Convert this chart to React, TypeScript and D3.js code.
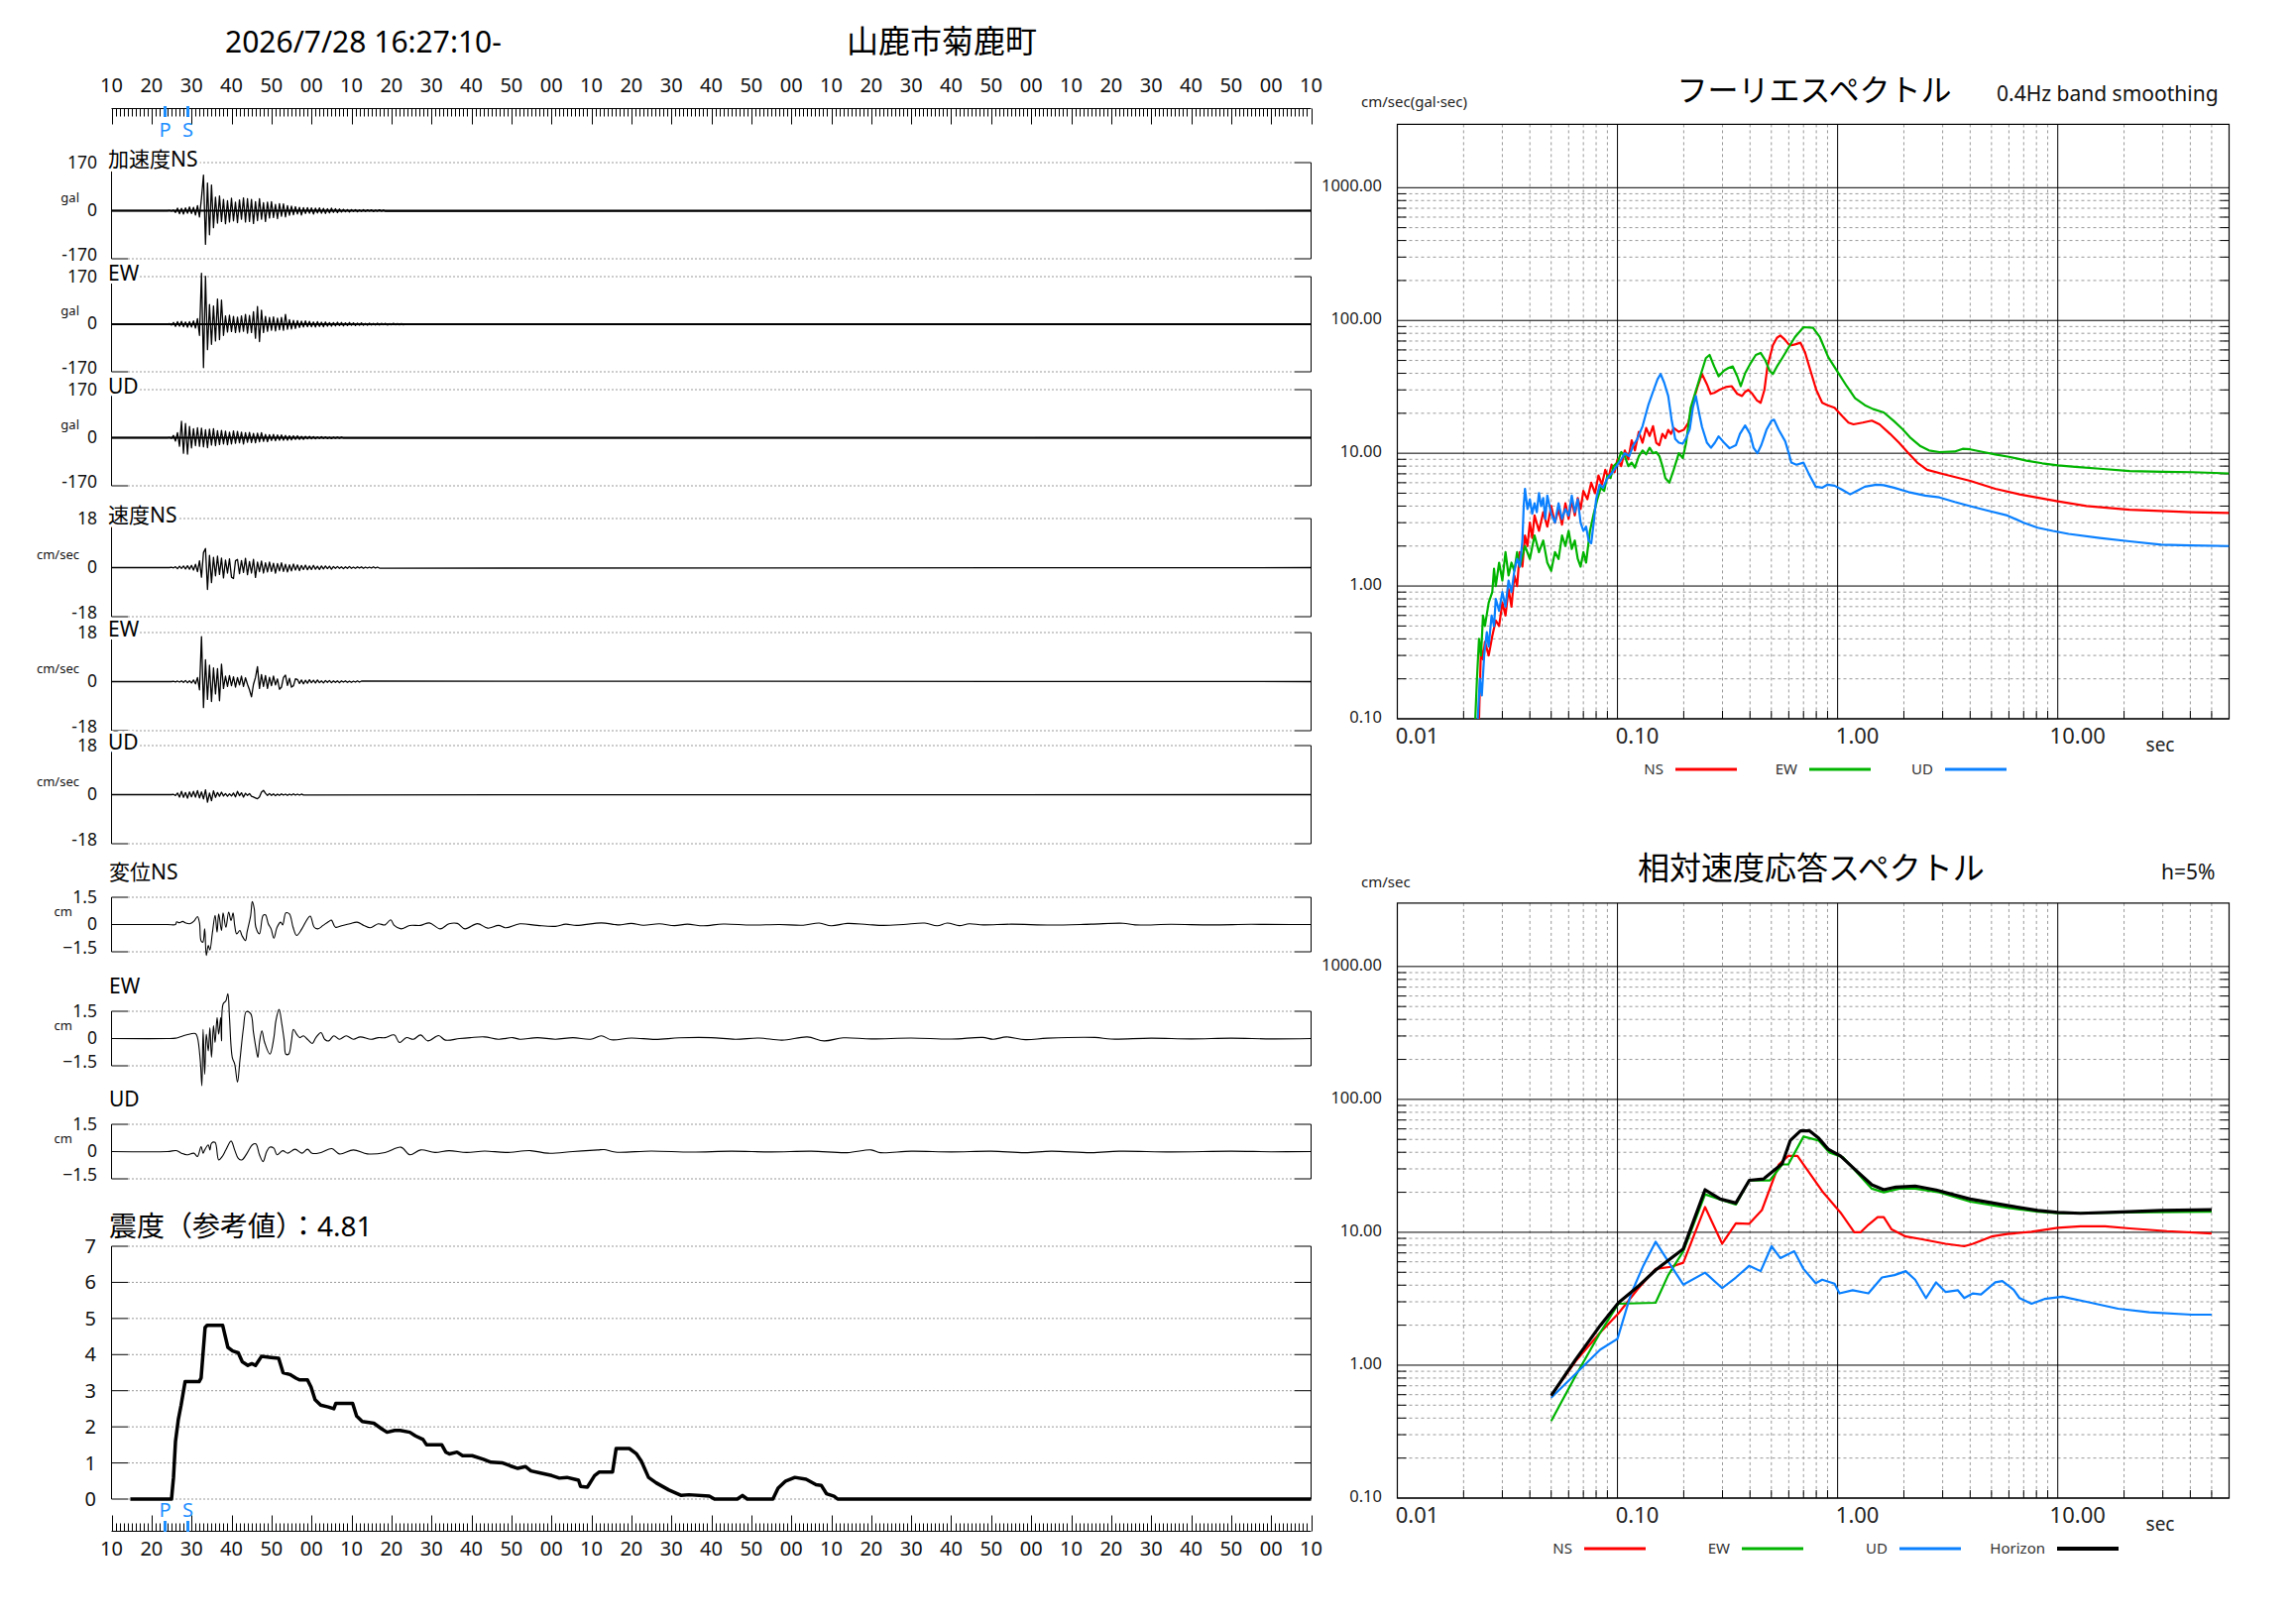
import * as d3 from "d3";

// ---------- waveform samples (time in seconds after 16:27:00) ----------
const waveStart = 24;
const waveStep = 0.5;

// acceleration, gal
const accNS = [0, 1, -1, 2, -6, 9, -11, 8, -12, 10, -9, 13, -10, 12, -15, 18, -22, 45, 126, -119, 98, -85, 91, -60, 48, -44, 52, -38, 40, -46, 35, -40, 44, -36, 30, -42, 38, -30, 45, -40, 42, -38, 40, -45, 32, -35, 42, -30, 28, -38, 30, -26, 32, -24, 22, -28, 25, -20, 24, -22, 18, -16, 16, -14, 14, -12, 12, -15, 11, -10, 11, -9, 10, -12, 9, -8, 10, -9, 8, -10, 7, -8, 9, -6, 7, -7, 6, -5, 5, -4, 4, -5, 4, -3, 4, -4, 3, -3, 4, -3, 3, -2, 3, -3, 2, -2, 3, -2, 2, -2];
const accEW = [0, 2, -3, 6, -8, 9, -7, 10, -9, 8, -11, 9, -10, 12, -14, 20, -40, 182, -155, 171, -91, 70, -72, 65, -60, 90, -55, 86, -40, 30, -28, 32, -26, 28, -30, 25, -28, 30, -25, 35, -32, 31, -30, 45, -50, 63, -62, 50, -30, 28, -25, 24, -22, 26, -24, 22, -20, 24, -22, 35, -18, 16, -17, 14, -15, 13, -12, 11, -10, 12, -9, 10, -9, 8, -10, 9, -8, 7, -9, 8, -7, 6, -7, 6, -6, 7, -5, 6, -6, 5, -5, 6, -4, 5, -5, 4, -4, 5, -4, 3, -4, 4, -3, 3, -3, 4, -3, 3, -2, 3, -3, 2, -2, 3, -2, 2, -2, 2, -2, 1];
const accUD = [0, 1, -2, 8, -12, 18, -30, 58, -55, 50, -58, 40, -36, 32, -28, 35, -30, 34, -32, 28, -35, 30, -26, 32, -28, 25, -24, 26, -22, 23, -25, 20, -22, 24, -20, 22, -18, 20, -22, 18, -16, 19, -17, 15, -18, 16, -14, 18, -13, 12, -14, 11, -10, 12, -11, 10, -9, 10, -9, 8, -9, 7, -8, 7, -6, 7, -6, 5, -6, 5, -4, 5, -4, 4, -4, 3, -3, 4, -3, 3, -3, 2, -3, 2, -2, 2, -2, 2, -1];

// velocity, cm/sec
const velNS = [0, 0, 0.1, -0.1, 0.3, -0.4, 0.5, -0.3, 0.6, -0.5, 0.7, -0.6, 0.8, -0.9, 1.2, -1.5, 2.5, -3.5, 5.5, 7.0, -8.0, 4.5, -5.5, 3.8, -3.0, 4.2, -2.5, 3.5, -3.8, 2.8, -2.0, 3.2, -3.5, -4.0, 2.5, 3.0, -2.2, 2.6, -1.8, 3.4, -2.6, 2.2, -2.0, 3.0, -3.6, 2.0, -1.5, 2.4, -2.0, 1.8, -1.6, 2.0, -1.4, 1.6, -2.0, 1.5, -1.2, 1.8, -1.4, 1.2, -1.6, 1.0, -1.2, 1.3, -0.9, 1.0, -1.1, 0.8, -0.7, 0.9, -0.8, 0.6, -0.7, 0.8, -0.6, 0.5, -0.7, 0.6, -0.5, 0.6, -0.4, 0.5, -0.6, 0.4, -0.3, 0.4, -0.3, 0.3, -0.4, 0.3, -0.3, 0.4, -0.3, 0.2, -0.3, 0.3, -0.2, 0.3, -0.3, 0.2, -0.2, 0.2, -0.2, 0.3, -0.2, 0.2, -0.2];
const velEW = [0, 0, 0, 0.1, -0.1, 0.2, -0.2, 0.3, -0.3, 0.4, -0.4, 0.3, -0.5, 0.6, -0.8, 1.5, -3.0, 16.5, -9.5, 8.0, -6.5, 6.0, -7.3, 5.0, -4.5, 4.8, -7.0, 6.4, -2.5, 2.0, -1.8, 2.2, -1.5, 1.8, -2.0, 1.5, -1.2, 2.0, -1.8, 1.4, -1.0, -3.0, -5.6, -1.0, 1.5, 5.5, -2.5, 2.6, -1.8, 2.2, -2.5, 1.6, -1.5, 2.0, -1.2, 1.0, -2.8, -2.0, 1.5, 2.4, -1.4, 1.2, -2.0, -1.5, 1.0, 0.8, -0.7, 0.6, -0.8, 0.5, -0.6, 0.7, -0.4, 0.5, -0.5, 0.6, -0.4, 0.3, -0.5, 0.4, -0.3, 0.4, -0.4, 0.3, -0.3, 0.3, -0.4, 0.3, -0.2, 0.3, -0.3, 0.2, -0.3, 0.2, -0.2, 0.3, -0.2, 0.2];
const velUD = [0, 0, 0, 0.1, -0.3, 0.6, -0.9, 1.2, -1.0, 0.8, -1.3, 1.0, -0.8, 1.2, -0.9, 1.5, -1.2, 1.0, -1.6, 1.8, -2.8, 0.6, -2.2, 1.4, -1.0, 0.8, -0.6, 0.9, -0.5, 0.4, -0.6, 0.3, -0.5, 0.6, -0.8, 1.2, -0.4, 0.7, -0.9, 0.5, -0.3, 0.4, -0.6, -0.9, -1.2, -1.5, -0.8, 0.9, 1.6, 0.5, -0.3, 0.4, -0.3, 0.3, -0.4, 0.2, -0.3, 0.3, -0.2, 0.2, -0.3, 0.2, -0.2, 0.3, -0.2, 0.2, -0.2, 0.2, -0.1];

// displacement, cm  [time, value]
const dispNS: [number, number][] = [[24, 0], [26, 0], [26.3, 0.15], [27, 0.1], [27.8, 0.17], [28.6, 0.08], [29.7, 0.05], [30.6, 0.18], [31.5, 0.44], [32, 0.1], [32.4, -0.9], [32.85, -0.97], [33.3, -0.24], [33.7, -1.7], [34.2, -1.15], [34.6, -1.4], [35.2, -0.5], [35.9, 0.5], [36.4, -0.42], [36.8, 0.58], [37.5, -0.33], [37.9, 0.64], [38.6, -0.15], [39.3, 0.68], [39.9, 0.22], [40.4, 0.64], [40.8, -0.05], [41.3, -0.51], [42.1, -0.33], [42.6, -0.6], [43.5, -0.88], [43.9, -0.42], [44.8, 0.5], [45.2, 1.26], [45.7, 0.86], [46.1, -0.15], [47, -0.51], [47.9, 0.5], [48.5, 0.53], [49.2, 0.04], [49.9, -0.24], [50.6, -0.75], [51.4, -0.15], [52.3, 0.13], [52.8, -0.02], [53.6, 0.64], [54.5, 0.58], [55.4, -0.15], [56.3, -0.6], [57.6, -0.24], [59, 0.31], [59.7, 0.46], [60.7, -0.15], [61.6, -0.24], [62.9, -0.05], [64.3, 0.16], [65, 0.24], [66, -0.15], [67.8, -0.05], [69.6, 0.04], [71.4, 0.13], [73.1, -0.05], [74.7, -0.18], [76.7, 0.04], [78.4, -0.02], [79.8, 0.26], [80.7, -0.05], [82.4, -0.24], [84.6, -0.05], [87.3, -0.05], [89.5, 0.09], [92.2, -0.24], [94.4, 0.04], [96.5, 0.06], [98.4, -0.24], [101.5, 0.05], [104.1, -0.2], [106.8, -0.05], [108.6, -0.18], [112.1, 0.04], [116.5, -0.05], [121, -0.1], [123.6, 0.02], [126.3, -0.05], [132.5, 0.09], [135.8, 0], [137, -0.02], [140, 0.06], [143, -0.04], [147, 0.04], [150.8, -0.06], [154, 0.02], [158, -0.07], [163, 0.03], [170, -0.03], [177, 0], [183, -0.04], [187, 0.08], [190, -0.07], [194, 0.06], [199, 0], [203, -0.05], [208, 0], [213.4, 0.08], [216.5, -0.07], [219, 0.08], [222, -0.06], [224.5, 0.04], [228, -0.02], [235, 0.02], [245, -0.03], [255, 0.02], [263, 0.07], [266, -0.02], [275, 0.01], [285, -0.02], [295, 0.01], [305, 0]];
const dispEW: [number, number][] = [[24, 0], [26, 0.02], [27, 0.08], [28.8, 0.2], [31, 0.27], [31.5, 0.05], [32.2, -1.22], [32.6, -2.6], [32.9, 0.5], [33.3, -1.96], [33.7, 0.24], [34.2, -0.68], [34.6, 0.6], [35, -1.04], [35.5, 0.7], [35.9, -0.22], [36.4, 1.15], [36.8, 0.24], [37.3, 1.15], [37.5, -0.13], [37.9, 1.9], [38.6, 2.07], [39.1, 2.47], [39.5, 1.15], [40.2, -1.04], [40.8, -1.4], [41.5, -2.4], [42.1, -1.22], [43, 0.6], [43.7, 1.48], [44.8, 1.37], [45.5, 0.33], [46.1, -0.5], [46.6, -1.04], [47, -0.22], [47.6, 0.42], [48.3, -0.22], [49.6, -0.86], [50.6, 0.05], [51.1, 0.97], [51.9, 1.6], [52.6, 0.79], [53.2, -0.13], [53.6, -0.86], [54.3, -0.86], [55, -0.13], [55.5, 0.5], [56.3, 0.24], [57.1, 0.05], [58, 0.15], [59, -0.04], [60.2, -0.27], [61.1, 0.05], [62.4, 0.33], [63.3, -0.04], [64.3, -0.13], [65.6, 0.15], [67, -0.04], [68.7, 0.15], [70.5, -0.04], [72.2, 0.09], [74.9, -0.04], [76.7, 0.05], [78.4, 0.05], [80.7, 0.2], [82, -0.22], [83.8, 0.05], [85.5, -0.04], [87.3, 0.2], [89.1, -0.13], [91.8, 0.16], [93.5, -0.09], [97, 0], [99.7, 0.05], [103.3, 0.09], [106.8, -0.04], [110.3, 0.05], [112.1, -0.04], [116.5, 0.05], [121, -0.04], [125.4, 0.05], [129.8, -0.04], [132.5, 0.15], [135, -0.07], [140, 0.03], [146, -0.05], [152, 0.04], [160, 0.05], [166, -0.04], [172, 0.03], [177.7, -0.09], [184, 0.09], [188.2, -0.13], [193, 0.04], [200, -0.02], [210, 0.03], [220, -0.03], [227.9, 0.06], [230.5, -0.04], [233.8, 0.09], [238.5, -0.06], [244, 0.02], [256, 0.06], [260, -0.03], [270, 0.02], [280, -0.02], [290, 0.02], [300, -0.02]];
const dispUD: [number, number][] = [[24, 0], [26.2, 0.05], [27.5, -0.09], [28.8, -0.18], [30.6, -0.09], [31.5, -0.27], [32.4, 0.27], [32.9, -0.09], [33.3, 0.09], [34.2, 0.37], [34.6, 0.09], [35, 0.46], [35.9, 0.5], [36.8, -0.46], [37.7, -0.27], [38.6, 0.09], [39.9, 0.58], [40.8, 0.09], [41.7, -0.37], [42.6, -0.46], [43.9, -0.09], [45.2, 0.37], [46.1, 0.42], [47, -0.18], [47.9, -0.55], [48.8, 0], [49.6, 0.24], [50.6, 0.18], [51.4, -0.18], [52.8, 0.05], [54.1, -0.09], [55.9, 0.13], [57.6, -0.09], [59, 0.13], [60.2, -0.1], [62.4, -0.05], [65.1, 0.16], [67, -0.13], [70.5, 0.09], [74, -0.13], [78.4, -0.05], [82.4, 0.24], [84.6, -0.18], [87.3, 0.09], [90.9, -0.05], [94.4, 0.05], [98.8, -0.05], [103.3, 0.03], [108.6, -0.05], [114.8, 0.05], [119.2, -0.09], [125.4, 0], [131.6, 0.09], [133.2, 0.11], [136, -0.03], [145, 0.03], [155, -0.03], [165, 0.02], [175, -0.02], [185, 0.02], [194, -0.06], [200, 0.09], [202.3, -0.06], [210, 0.02], [220, -0.02], [230, 0.02], [238.5, -0.06], [245, 0.02], [255, -0.06], [262, 0.02], [275, -0.02], [290, 0.02], [300, -0.01]];

// seismic intensity (reference value)  [time, intensity]
const intensity: [number, number][] = [[14.7, 0], [25, 0], [25.5, 0.6], [26, 1.6], [26.7, 2.2], [27.4, 2.6], [28.4, 3.25], [31.9, 3.25], [32.4, 3.35], [33.4, 4.75], [33.9, 4.81], [37.8, 4.81], [39.1, 4.2], [40.3, 4.1], [41.7, 4.05], [42.7, 3.8], [44.1, 3.7], [45.1, 3.75], [46, 3.7], [47.5, 3.95], [49.9, 3.92], [51.8, 3.9], [52.9, 3.5], [54.6, 3.45], [56.1, 3.35], [57, 3.3], [59, 3.3], [59.9, 3.1], [60.9, 2.75], [62.3, 2.6], [64.2, 2.55], [65.6, 2.5], [66.1, 2.65], [70.3, 2.65], [71.3, 2.3], [72.7, 2.15], [75.6, 2.1], [77.5, 1.95], [78.9, 1.85], [80.8, 1.9], [82.2, 1.9], [84.6, 1.85], [86, 1.75], [87.9, 1.65], [88.8, 1.5], [92.6, 1.5], [93.6, 1.3], [94.5, 1.25], [96.4, 1.3], [97.8, 1.2], [100.2, 1.2], [103, 1.1], [104.9, 1.02], [107.8, 1], [109.7, 0.92], [111.6, 0.85], [113.5, 0.9], [114.9, 0.78], [117.3, 0.72], [120.1, 0.65], [122, 0.58], [123.9, 0.6], [125.8, 0.55], [126.8, 0.52], [127.3, 0.35], [129, 0.33], [130.8, 0.65], [132, 0.75], [135.3, 0.75], [136.2, 1.4], [139.5, 1.4], [141.3, 1.25], [142.5, 1.05], [144.3, 0.6], [146.2, 0.45], [149.4, 0.25], [152.5, 0.1], [154.4, 0.12], [159.5, 0.08], [160.8, 0], [166.5, 0], [167.8, 0.1], [169, 0], [175.4, 0], [176.7, 0.3], [178.6, 0.5], [180.9, 0.6], [183.7, 0.55], [186.2, 0.4], [187.5, 0.38], [188.8, 0.15], [190.7, 0.08], [191.6, 0], [310, 0]];
const intensityMax = 4.81;
const pArrival = 23.4;
const sArrival = 29.1;

// ---------- Fourier spectra  [period sec, cm/sec] ----------
const fourierNS: [number, number][] = [[0.0235, 0.1], [0.024, 0.35], [0.0245, 0.28], [0.025, 0.38], [0.026, 0.3], [0.027, 0.42], [0.028, 0.55], [0.029, 0.5], [0.03, 0.75], [0.031, 0.6], [0.032, 0.95], [0.033, 0.7], [0.034, 1.2], [0.035, 1.0], [0.036, 1.8], [0.037, 1.4], [0.038, 2.4], [0.039, 2.0], [0.04, 3.0], [0.041, 2.3], [0.042, 3.4], [0.044, 2.6], [0.046, 3.6], [0.048, 2.8], [0.05, 4.0], [0.052, 3.0], [0.054, 3.8], [0.056, 2.9], [0.058, 4.2], [0.06, 3.2], [0.062, 4.4], [0.064, 3.4], [0.066, 4.6], [0.068, 3.8], [0.07, 5.2], [0.073, 4.5], [0.076, 6.0], [0.079, 5.0], [0.082, 6.8], [0.085, 5.8], [0.088, 7.5], [0.091, 6.5], [0.094, 8.2], [0.097, 7.2], [0.1, 9.0], [0.104, 8.0], [0.108, 10.5], [0.112, 9.0], [0.116, 12.5], [0.12, 10.5], [0.125, 14.5], [0.13, 12.0], [0.135, 15.5], [0.14, 13.5], [0.145, 16], [0.15, 12], [0.155, 11.5], [0.16, 14], [0.165, 13], [0.17, 15], [0.175, 14], [0.18, 15.5], [0.19, 14.5], [0.2, 15], [0.21, 17], [0.22, 24], [0.23, 31], [0.242, 39.5], [0.255, 33], [0.265, 28], [0.275, 28.5], [0.29, 30], [0.31, 31.5], [0.33, 32], [0.35, 28], [0.368, 27], [0.38, 29], [0.393, 30], [0.41, 28], [0.43, 25], [0.447, 24], [0.465, 30], [0.48, 45], [0.495, 55], [0.508, 65], [0.53, 74], [0.549, 77], [0.575, 72], [0.6, 66], [0.616, 65], [0.64, 66], [0.678, 68], [0.71, 58], [0.749, 43], [0.8, 30], [0.851, 24], [0.9, 23], [0.968, 22], [1.05, 19], [1.12, 17], [1.18, 16.5], [1.3, 17], [1.43, 17.6], [1.55, 16.5], [1.73, 14], [1.9, 12], [2.1, 10], [2.3, 8.5], [2.55, 7.5], [3.09, 6.9], [4, 6.2], [5.2, 5.4], [6.7, 4.9], [10, 4.35], [13.5, 4.0], [21.2, 3.75], [40.5, 3.6], [60, 3.55]];
const fourierEW: [number, number][] = [[0.0226, 0.1], [0.023, 0.2], [0.0235, 0.4], [0.024, 0.3], [0.0245, 0.6], [0.025, 0.5], [0.026, 0.75], [0.027, 0.9], [0.0275, 1.35], [0.028, 1.0], [0.029, 1.5], [0.03, 1.1], [0.031, 1.8], [0.032, 1.2], [0.033, 1.5], [0.034, 1.3], [0.035, 1.8], [0.036, 1.4], [0.038, 2.0], [0.04, 1.6], [0.042, 2.4], [0.044, 1.8], [0.046, 2.2], [0.048, 1.5], [0.05, 1.3], [0.052, 1.8], [0.054, 1.6], [0.056, 2.4], [0.058, 2.0], [0.06, 2.6], [0.062, 1.9], [0.064, 2.2], [0.066, 1.6], [0.068, 1.4], [0.07, 1.8], [0.072, 1.5], [0.075, 2.6], [0.078, 3.5], [0.081, 4.5], [0.084, 5.5], [0.087, 5.2], [0.09, 6.8], [0.093, 6.5], [0.096, 8.0], [0.1, 8.5], [0.104, 10.2], [0.108, 9.5], [0.112, 8.0], [0.116, 8.5], [0.12, 7.8], [0.125, 9.5], [0.13, 10.5], [0.135, 9.8], [0.14, 11.0], [0.145, 10.0], [0.15, 10.2], [0.155, 9.5], [0.16, 8.0], [0.165, 6.5], [0.172, 6.0], [0.18, 7.5], [0.19, 10], [0.198, 9.2], [0.205, 12], [0.215, 22], [0.227, 29.5], [0.24, 40], [0.252, 52], [0.262, 55], [0.275, 45], [0.288, 38], [0.305, 42], [0.32, 44], [0.334, 45], [0.35, 38], [0.363, 32], [0.38, 40], [0.405, 48.5], [0.425, 55], [0.447, 57], [0.47, 50], [0.49, 42], [0.508, 39.5], [0.53, 45], [0.56, 52], [0.597, 62], [0.64, 75], [0.7, 89], [0.773, 88], [0.83, 75], [0.906, 53], [1.0, 41], [1.1, 32], [1.2, 26], [1.33, 23], [1.45, 21.5], [1.62, 20.3], [1.8, 17.5], [1.97, 15.2], [2.15, 13], [2.38, 11.3], [2.6, 10.5], [2.9, 10.2], [3.4, 10.3], [3.7, 10.8], [4.0, 10.7], [4.6, 10.2], [5.2, 9.8], [6, 9.4], [7.2, 8.8], [8.5, 8.4], [10, 8.1], [12, 7.9], [15.5, 7.65], [21.2, 7.35], [30, 7.25], [40.5, 7.2], [60, 7.05]];
const fourierUD: [number, number][] = [[0.0232, 0.1], [0.0237, 0.2], [0.0242, 0.15], [0.0248, 0.3], [0.0255, 0.45], [0.026, 0.35], [0.0268, 0.6], [0.0275, 0.5], [0.028, 0.8], [0.029, 0.65], [0.03, 0.9], [0.031, 0.7], [0.032, 1.1], [0.033, 0.9], [0.034, 1.3], [0.035, 1.6], [0.036, 1.4], [0.037, 2.2], [0.0375, 4.0], [0.038, 5.4], [0.039, 3.8], [0.04, 4.5], [0.041, 3.5], [0.042, 4.2], [0.043, 3.6], [0.044, 5.0], [0.045, 4.0], [0.046, 4.6], [0.047, 3.2], [0.048, 4.8], [0.05, 3.5], [0.052, 3.0], [0.054, 4.2], [0.056, 3.2], [0.058, 3.8], [0.06, 3.4], [0.062, 4.8], [0.064, 3.6], [0.066, 4.5], [0.068, 3.0], [0.07, 2.6], [0.072, 2.8], [0.074, 2.2], [0.076, 2.1], [0.078, 3.0], [0.08, 4.5], [0.083, 5.8], [0.086, 5.5], [0.09, 6.5], [0.095, 7.2], [0.1, 8.2], [0.104, 9.0], [0.108, 10], [0.113, 9.5], [0.118, 11.5], [0.123, 12.8], [0.13, 16], [0.138, 23], [0.146, 30], [0.152, 36], [0.157, 39.5], [0.163, 34], [0.17, 27], [0.176, 18], [0.183, 12.8], [0.19, 12], [0.198, 11.8], [0.205, 13], [0.213, 15.2], [0.22, 22], [0.227, 27], [0.235, 20], [0.242, 15.8], [0.255, 12], [0.266, 11.0], [0.277, 12], [0.288, 13.4], [0.305, 12], [0.323, 10.9], [0.345, 11.5], [0.36, 14], [0.38, 16.2], [0.4, 14], [0.415, 11], [0.432, 10], [0.45, 11.5], [0.475, 15], [0.5, 17.5], [0.514, 17.9], [0.54, 15], [0.578, 12.3], [0.6, 10], [0.616, 8.5], [0.65, 8.2], [0.7, 8.5], [0.74, 7], [0.795, 5.6], [0.85, 5.5], [0.9, 5.8], [0.968, 5.7], [1.05, 5.3], [1.14, 4.9], [1.22, 5.2], [1.33, 5.6], [1.5, 5.8], [1.62, 5.75], [1.8, 5.5], [2.1, 5.1], [2.5, 4.8], [2.9, 4.65], [3.4, 4.3], [4.0, 4.0], [4.8, 3.7], [5.9, 3.4], [7, 3.0], [8.1, 2.75], [9.5, 2.6], [11.2, 2.47], [15.5, 2.3], [21.2, 2.17], [29.5, 2.05], [40, 2.02], [60, 2.0]];

// ---------- relative velocity response spectra (h=5%) ----------
const responseNS: [number, number][] = [[0.05, 0.59], [0.0645, 1.07], [0.0835, 1.76], [0.101, 2.45], [0.123, 3.7], [0.149, 5.3], [0.175, 5.5], [0.199, 5.9], [0.25, 15.5], [0.299, 8.2], [0.345, 11.7], [0.397, 11.6], [0.453, 14.7], [0.541, 32.4], [0.597, 37.6], [0.657, 37.6], [0.851, 20.4], [1.03, 14.1], [1.19, 10], [1.27, 10], [1.38, 11.4], [1.52, 13], [1.62, 13], [1.76, 10.5], [2.04, 9.3], [2.39, 8.9], [3.09, 8.2], [3.76, 7.85], [4.12, 8.2], [5.0, 9.3], [5.9, 9.7], [7.6, 10.1], [10, 10.8], [12.7, 11.1], [16.4, 11.1], [21.2, 10.7], [31.3, 10.2], [50, 9.8]];
const responseEW: [number, number][] = [[0.05, 0.38], [0.0645, 0.83], [0.0835, 1.76], [0.101, 2.9], [0.149, 2.95], [0.17, 4.76], [0.199, 7.2], [0.25, 19.3], [0.303, 17.3], [0.345, 16.2], [0.397, 24.6], [0.493, 24.6], [0.56, 32.4], [0.597, 32.4], [0.7, 52.5], [0.821, 49], [0.918, 39.8], [1.06, 36.6], [1.43, 21.3], [1.62, 20], [1.91, 21.3], [2.25, 21.3], [2.9, 20], [4.0, 17], [5.9, 15.3], [8.1, 14.3], [10, 13.9], [12.7, 13.9], [21.2, 14.1], [50, 14.3]];
const responseUD: [number, number][] = [[0.05, 0.57], [0.0645, 0.86], [0.0835, 1.31], [0.1, 1.58], [0.115, 3.41], [0.131, 5.6], [0.149, 8.5], [0.175, 5.6], [0.199, 4.04], [0.25, 4.97], [0.299, 3.8], [0.345, 4.57], [0.397, 5.6], [0.447, 5.1], [0.501, 7.85], [0.549, 6.4], [0.635, 7.2], [0.7, 5.3], [0.795, 4.14], [0.851, 4.4], [0.968, 4.1], [1.02, 3.47], [1.17, 3.66], [1.38, 3.47], [1.59, 4.57], [1.81, 4.76], [2.04, 5.1], [2.25, 4.4], [2.52, 3.2], [2.8, 4.2], [3.09, 3.56], [3.52, 3.66], [3.76, 3.2], [4.12, 3.47], [4.48, 3.41], [5.2, 4.2], [5.6, 4.3], [6.3, 3.7], [6.7, 3.2], [7.6, 2.9], [8.7, 3.15], [10.5, 3.28], [13.5, 3.0], [18.8, 2.66], [26.1, 2.5], [40.5, 2.4], [50, 2.4]];
const responseHZ: [number, number][] = [[0.05, 0.59], [0.0645, 1.1], [0.0835, 1.99], [0.101, 2.95], [0.123, 3.86], [0.149, 5.2], [0.199, 7.5], [0.25, 20.9], [0.293, 17.8], [0.345, 16.6], [0.397, 24.6], [0.461, 25.2], [0.56, 32.8], [0.609, 49], [0.678, 57.9], [0.747, 57.9], [0.821, 51], [0.906, 42.2], [1.03, 37.6], [1.21, 29.3], [1.43, 22.8], [1.62, 20.9], [1.84, 21.9], [2.25, 22.3], [2.8, 20.8], [4.0, 17.8], [5.9, 15.9], [8.1, 14.6], [10, 14.1], [12.7, 13.9], [21.2, 14.3], [29.5, 14.6], [50, 14.8]];

const timeTicks = d3.range(10, 311, 1);
const timeLabels = d3.range(10, 311, 10);
const intensityLevels = d3.range(0, 8);
const yDecades = [0.1, 1, 10, 100, 1000];
const xDecades = [0.01, 0.1, 1, 10];

const FONT = "'Noto Sans', 'Noto Sans CJK JP', sans-serif";
const RED = "#ff0000";
const GREEN = "#00b400";
const BLUE = "#0a80ff";
const PS_BLUE = "#1e8fff";

const L = 112.5;
const R = 1322.5;
const xT = d3.scaleLinear().domain([10, 310]).range([L, R]);

const toPairs = (vals: number[]): [number, number][] =>
  vals.map((v, i) => [waveStart + i * waveStep, v]);

const wavePanels = [
  { label: "加速度NS", unit: "gal", max: 170, zero: 212.5, half: 48.5, data: toPairs(accNS), kind: "acc" },
  { label: "EW", unit: "gal", max: 170, zero: 327, half: 48, data: toPairs(accEW), kind: "acc" },
  { label: "UD", unit: "gal", max: 170, zero: 441.5, half: 48.5, data: toPairs(accUD), kind: "acc" },
  { label: "速度NS", unit: "cm/sec", max: 18, zero: 572.5, half: 49.5, data: toPairs(velNS), kind: "vel" },
  { label: "EW", unit: "cm/sec", max: 18, zero: 687.5, half: 49.5, data: toPairs(velEW), kind: "vel" },
  { label: "UD", unit: "cm/sec", max: 18, zero: 801.5, half: 49.5, data: toPairs(velUD), kind: "vel" },
  { label: "変位NS", unit: "cm", max: 1.5, zero: 932.5, half: 27.5, data: dispNS, kind: "disp" },
  { label: "EW", unit: "cm", max: 1.5, zero: 1047.5, half: 27.5, data: dispEW, kind: "disp" },
  { label: "UD", unit: "cm", max: 1.5, zero: 1161.5, half: 27.5, data: dispUD, kind: "disp" },
];

function BracketLine({ y }: { y: number }) {
  return (
    <g>
      <line x1={L} x2={L + 16.5} y1={y} y2={y} stroke="#000" />
      <line x1={L + 16.5} x2={R - 16.5} y1={y} y2={y} stroke="#999" strokeDasharray="2,2" />
      <line x1={R - 16.5} x2={R} y1={y} y2={y} stroke="#000" />
    </g>
  );
}

function TimeRuler({ y, dir, labelY, psY, psLabelY }: { y: number; dir: number; labelY: number; psY: [number, number]; psLabelY: number }) {
  return (
    <g>
      <line x1={L} x2={R} y1={y} y2={y} stroke="#000" />
      {timeTicks.map((t) => (
        <line key={t} x1={Math.round(xT(t)) + 0.5} x2={Math.round(xT(t)) + 0.5} y1={y} y2={y + dir * (t % 10 === 0 ? 16 : 8)} stroke="#000" />
      ))}
      {timeLabels.map((t) => (
        <text key={t} x={xT(t)} y={labelY} fontSize={20} textAnchor="middle" fill="#111">
          {String(t % 60).padStart(2, "0")}
        </text>
      ))}
      {[["P", pArrival], ["S", sArrival]].map(([k, t]) => (
        <g key={k as string}>
          <rect x={xT(t as number) - 1.5} y={psY[0]} width={3} height={psY[1] - psY[0]} fill={PS_BLUE} />
          <text x={xT(t as number)} y={psLabelY} fontSize={20} textAnchor="middle" fill={PS_BLUE}>{k}</text>
        </g>
      ))}
    </g>
  );
}

function WavePanel({ p }: { p: (typeof wavePanels)[number] }) {
  const top = p.zero - p.half;
  const bottom = p.zero + p.half;
  const y = d3.scaleLinear().domain([-p.max, p.max]).range([bottom, top]);
  const pts: [number, number][] = [[10, 0], ...p.data, [310, 0]];
  const line = d3
    .line<[number, number]>()
    .x((d) => xT(d[0]))
    .y((d) => y(d[1]))
    .curve(p.kind === "disp" ? d3.curveCatmullRom.alpha(0.5) : d3.curveLinear);
  const isDisp = p.kind === "disp";
  const fmt = (v: number) => (isDisp ? d3.format(".1f")(v) : String(v));
  return (
    <g>
      <line x1={L} x2={L} y1={top} y2={bottom} stroke="#000" />
      <line x1={R} x2={R} y1={top} y2={bottom} stroke="#000" />
      <BracketLine y={top} />
      <BracketLine y={bottom} />
      {p.kind === "acc" && <line x1={L} x2={R} y1={p.zero} y2={p.zero} stroke="#000" strokeWidth={2} />}
      <path d={line(pts) ?? ""} fill="none" stroke="#000" strokeWidth={isDisp ? 1.1 : 1.3} strokeLinejoin="round" />
      <text x={98} y={top + 6} fontSize={17.5} textAnchor="end" fill="#111">{fmt(p.max)}</text>
      <text x={98} y={p.zero + 5} fontSize={17.5} textAnchor="end" fill="#111">0</text>
      <text x={98} y={bottom + 1.5} fontSize={17.5} textAnchor="end" fill="#111">{fmt(-p.max)}</text>
      <text x={isDisp ? 73 : 80} y={p.zero - (isDisp ? 9 : 9)} fontSize={13} textAnchor="end" fill="#111">{p.unit}</text>
      {isDisp ? (
        <text x={110} y={top - 18} fontSize={21} fill="#000">{p.label}</text>
      ) : (
        <text x={109} y={top + 4} fontSize={21} fill="#000" stroke="#fff" strokeWidth={6} paintOrder="stroke" strokeLinejoin="round">
          {p.label}
        </text>
      )}
    </g>
  );
}

function IntensityPanel() {
  const top = 1257;
  const bottom = 1512;
  const y = d3.scaleLinear().domain([0, 7]).range([bottom, top]);
  const line = d3
    .line<[number, number]>()
    .x((d) => xT(d[0]))
    .y((d) => y(d[1]));
  return (
    <g>
      <line x1={L} x2={L} y1={top} y2={bottom} stroke="#000" />
      <line x1={R} x2={R} y1={top} y2={bottom} stroke="#000" />
      {intensityLevels.map((v) => (
        <g key={v}>
          <BracketLine y={y(v)} />
          <text x={97} y={y(v) + 7} fontSize={20} textAnchor="end" fill="#111">{v}</text>
        </g>
      ))}
      <path d={line(intensity) ?? ""} fill="none" stroke="#000" strokeWidth={3.5} strokeLinejoin="round" />
      <text x={110} y={1247} fontSize={28} fill="#000">
        震度（参考値）：{intensityMax.toFixed(2)}
      </text>
    </g>
  );
}

type Series = { name: string; color: string; width: number; data: [number, number][] };

function LogPanel({
  top, bottom, title, titleX, titleY, titleSize, note, noteX, noteY, unit, unitY, series, legendX,
}: {
  top: number; bottom: number; title: string; titleX: number; titleY: number; titleSize: number;
  note: string; noteX: number; noteY: number; unit: string; unitY: number; series: Series[]; legendX: number[];
}) {
  const x0 = 1409.5;
  const x1 = 2248.5;
  const x = d3.scaleLog().domain([0.01, 60]).range([x0, x1]);
  const y = d3.scaleLog().domain([0.1, 3000]).range([bottom, top]);
  const yMinor = yDecades.slice(0, 4).flatMap((d) => d3.range(2, 10).map((m) => d * m));
  const xMinor = xDecades.flatMap((d) => d3.range(2, 10).map((m) => d * m)).filter((v) => v < 60);
  const line = d3
    .line<[number, number]>()
    .x((d) => x(d[0]))
    .y((d) => y(d[1]));
  const clipId = `clip-${Math.round(top)}`;
  const legendY = bottom + 51;
  return (
    <g>
      <defs>
        <clipPath id={clipId}>
          <rect x={x0} y={top} width={x1 - x0} height={bottom - top} />
        </clipPath>
      </defs>
      {xMinor.map((v) => (
        <g key={`xm${v}`}>
          <line x1={x(v)} x2={x(v)} y1={top} y2={bottom} stroke="#999" strokeDasharray="3,3" />
          <line x1={x(v)} x2={x(v)} y1={bottom - 8} y2={bottom} stroke="#000" />
        </g>
      ))}
      {yMinor.map((v) => (
        <g key={`ym${v}`}>
          <line x1={x0} x2={x1} y1={y(v)} y2={y(v)} stroke="#999" strokeDasharray="3,3" />
          <line x1={x0} x2={x0 + 9} y1={y(v)} y2={y(v)} stroke="#000" />
          <line x1={x1 - 9} x2={x1} y1={y(v)} y2={y(v)} stroke="#000" />
        </g>
      ))}
      {xDecades.map((v) => (
        <line key={`xd${v}`} x1={x(v)} x2={x(v)} y1={top} y2={bottom} stroke="#000" />
      ))}
      {yDecades.map((v) => (
        <line key={`yd${v}`} x1={x0} x2={x1} y1={y(v)} y2={y(v)} stroke="#000" />
      ))}
      <rect x={x0} y={top} width={x1 - x0} height={bottom - top} fill="none" stroke="#000" strokeWidth={1.2} />
      <g clipPath={`url(#${clipId})`}>
        {series.map((s) => (
          <path key={s.name} d={line(s.data) ?? ""} fill="none" stroke={s.color} strokeWidth={s.width} strokeLinejoin="round" />
        ))}
      </g>
      {yDecades.map((v) => (
        <text key={`yl${v}`} x={1394} y={y(v) + 4} fontSize={16.5} textAnchor="end" fill="#222">
          {d3.format(".2f")(v)}
        </text>
      ))}
      {xDecades.map((v) => (
        <text key={`xl${v}`} x={x(v) + 20} y={bottom + 25} fontSize={22} textAnchor="middle" fill="#222">
          {d3.format(".2f")(v)}
        </text>
      ))}
      <text x={2179} y={bottom + 33} fontSize={19} textAnchor="middle" fill="#222">sec</text>
      <text x={1373} y={unitY} fontSize={15} fill="#222">{unit}</text>
      <text x={titleX} y={titleY} fontSize={titleSize} textAnchor="middle" fill="#000">{title}</text>
      <text x={noteX} y={noteY} fontSize={21} fill="#111">{note}</text>
      {series.map((s, i) => (
        <g key={`lg${s.name}`}>
          <text x={legendX[i] - 12} y={legendY + 5} fontSize={15} textAnchor="end" fill="#333">{s.name}</text>
          <line x1={legendX[i]} x2={legendX[i] + 62} y1={legendY} y2={legendY} stroke={s.color} strokeWidth={s.width + 0.6} />
        </g>
      ))}
    </g>
  );
}

export default function App() {
  return (
    <div style={{ position: "absolute", left: 0, top: 0 }}>
      <svg width={2316} height={1637} viewBox="0 0 2316 1637" style={{ display: "block", fontFamily: FONT }}>
        <rect width={2316} height={1637} fill="#fff" />
        <text x={227} y={53} fontSize={30} fill="#000">2026/7/28 16:27:10-</text>
        <text x={950} y={53} fontSize={32} textAnchor="middle" fill="#000">山鹿市菊鹿町</text>

        <TimeRuler y={109.5} dir={1} labelY={93} psY={[107, 118]} psLabelY={138} />
        {wavePanels.map((p, i) => (
          <WavePanel key={i} p={p} />
        ))}
        <IntensityPanel />
        <TimeRuler y={1544.5} dir={-1} labelY={1569} psY={[1534, 1545]} psLabelY={1530} />

        <LogPanel
          top={125.4}
          bottom={725}
          title="フーリエスペクトル"
          titleX={1830}
          titleY={102}
          titleSize={31}
          note="0.4Hz band smoothing"
          noteX={2014}
          noteY={102}
          unit="cm/sec(gal·sec)"
          unitY={108}
          series={[
            { name: "NS", color: RED, width: 2.2, data: fourierNS },
            { name: "EW", color: GREEN, width: 2.2, data: fourierEW },
            { name: "UD", color: BLUE, width: 2.2, data: fourierUD },
          ]}
          legendX={[1690, 1825, 1962]}
        />
        <LogPanel
          top={910.9}
          bottom={1511}
          title="相対速度応答スペクトル"
          titleX={1827}
          titleY={887}
          titleSize={32}
          note="h=5%"
          noteX={2180}
          noteY={887}
          unit="cm/sec"
          unitY={895}
          series={[
            { name: "NS", color: RED, width: 2.2, data: responseNS },
            { name: "EW", color: GREEN, width: 2.2, data: responseEW },
            { name: "UD", color: BLUE, width: 2.2, data: responseUD },
            { name: "Horizon", color: "#000", width: 3.2, data: responseHZ },
          ]}
          legendX={[1598, 1757, 1916, 2075]}
        />
      </svg>
    </div>
  );
}
